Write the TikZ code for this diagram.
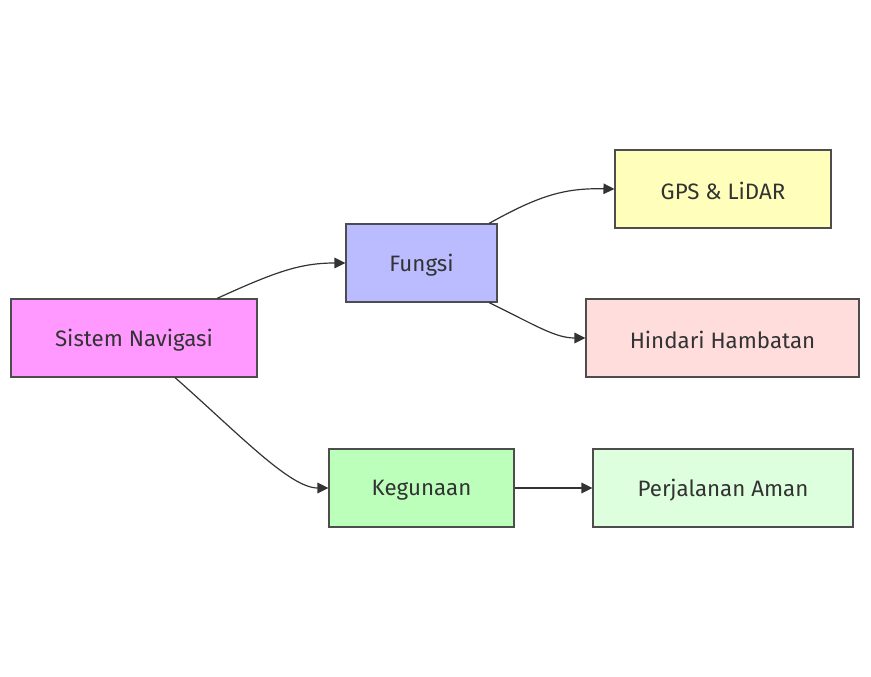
\documentclass[tikz,border=0pt]{standalone}
\usepackage{fontspec}
\setmainfont{Fira Sans}
\usetikzlibrary{arrows.meta}
\definecolor{txt}{HTML}{333333}
\definecolor{edge}{HTML}{333333}
\definecolor{bord}{HTML}{4D4D4D}
\newcommand{\lowtxt}[1]{\raisebox{-2pt}[\height][\depth]{#1}}
\begin{document}
\begin{tikzpicture}[x=1pt,y=-1pt,
  box/.style={draw=bord,line width=1.1pt,rectangle,inner sep=0pt,text=txt,font=\fontsize{22.3}{24}\selectfont},
  conn/.style={draw=edge,line width=1.2pt,-{Triangle[length=11pt,width=10.5pt]}}]
\useasboundingbox (0,0) rectangle (871,677);
\node[box,fill={rgb,255:red,255;green,153;blue,255},minimum width=246pt,minimum height=78pt] (s) at (134,338) {\lowtxt{Sistem Navigasi}};
\node[box,fill={rgb,255:red,187;green,187;blue,255},minimum width=151pt,minimum height=78pt] (f) at (421.5,263) {\lowtxt{Fungsi}};
\node[box,fill={rgb,255:red,255;green,255;blue,187},minimum width=216pt,minimum height=78pt] (g) at (723,189) {\lowtxt{GPS \& LiDAR}};
\node[box,fill={rgb,255:red,255;green,221;blue,221},minimum width=273pt,minimum height=78pt] (h) at (722.5,338) {\lowtxt{Hindari Hambatan}};
\node[box,fill={rgb,255:red,187;green,255;blue,187},minimum width=185pt,minimum height=78pt] (k) at (421.5,488) {\lowtxt{Kegunaan}};
\node[box,fill={rgb,255:red,221;green,255;blue,221},minimum width=260pt,minimum height=78pt] (p) at (723,488) {\lowtxt{Perjalanan Aman}};
\coordinate (s1) at ([xshift=83pt]s.north);
\coordinate (s2) at ([xshift=41pt]s.south);
\coordinate (f1) at ([xshift=67.5pt]f.north);
\coordinate (f2) at ([xshift=67.5pt]f.south);
\draw[conn] (s1) .. controls (275,272) and (300,263) .. (f.west);
\draw[conn] (s2) .. controls (240,435) and (290,488) .. (k.west);
\draw[conn] (f1) .. controls (540,195) and (565,188) .. (g.west);
\draw[conn] (f2) .. controls (535,325) and (555,338) .. (h.west);
\draw[conn] (k.east) -- (p.west);
\end{tikzpicture}
\end{document}
